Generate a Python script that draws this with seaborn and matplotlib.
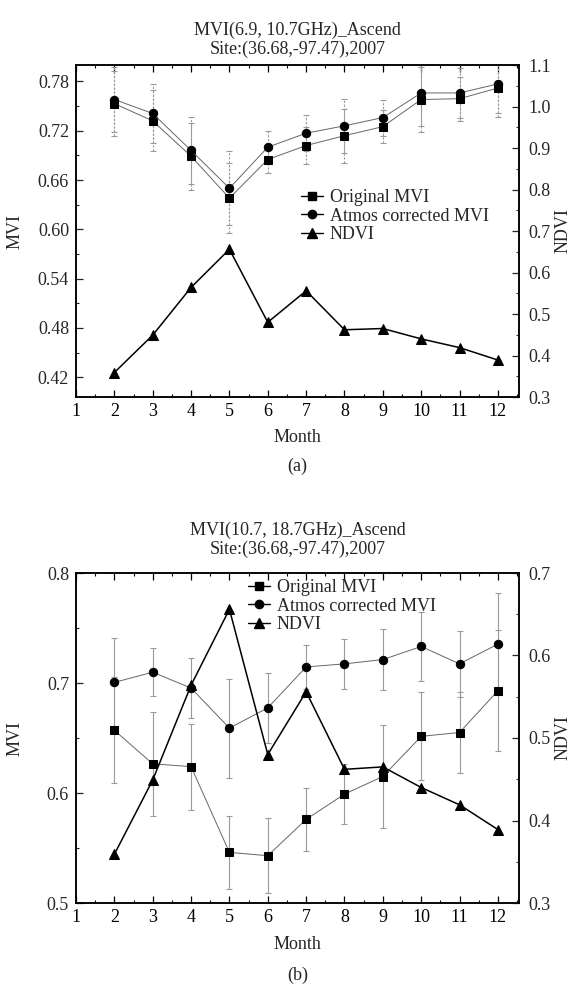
import matplotlib
matplotlib.use("Agg")
import matplotlib.pyplot as plt
import seaborn as sns
import numpy as np
from matplotlib.lines import Line2D
from matplotlib.ticker import MultipleLocator, FormatStrFormatter

sns.set_style("ticks")
plt.rcParams['font.family'] = ['Liberation Serif', 'DejaVu Serif']
plt.rcParams['mathtext.fontset'] = 'stix'

months = [2, 3, 4, 5, 6, 7, 8, 9, 10, 11, 12]

# Panel (a): MVI(6.9, 10.7GHz)
a_orig = [0.753, 0.732, 0.689, 0.638, 0.685, 0.702, 0.714, 0.725, 0.758, 0.759, 0.772]
a_orig_err = [0.040, 0.037, 0.041, 0.043, 0.017, 0.023, 0.033, 0.020, 0.040, 0.027, 0.035]
a_atm = [0.758, 0.741, 0.696, 0.650, 0.700, 0.717, 0.726, 0.736, 0.766, 0.766, 0.777]
a_atm_err = [0.040, 0.036, 0.041, 0.045, 0.020, 0.022, 0.033, 0.022, 0.040, 0.030, 0.035]

# Panel (b): MVI(10.7, 18.7GHz)
b_orig = [0.657, 0.6265, 0.624, 0.546, 0.543, 0.576, 0.599, 0.615, 0.6515, 0.655, 0.693]
b_orig_err = [0.048, 0.047, 0.039, 0.033, 0.034, 0.029, 0.027, 0.047, 0.040, 0.037, 0.055]
b_atm = [0.7006, 0.7098, 0.6954, 0.659, 0.6774, 0.7146, 0.7174, 0.7213, 0.7332, 0.7174, 0.7354]
b_atm_err = [0.040, 0.022, 0.027, 0.045, 0.032, 0.020, 0.023, 0.028, 0.031, 0.030, 0.046]

# NDVI (same in both panels)
ndvi = [0.359, 0.449, 0.564, 0.656, 0.480, 0.556, 0.462, 0.465, 0.440, 0.419, 0.389]

labels = ["Original MVI", "Atmos corrected MVI", "NDVI"]
titles = [("MVI(6.9, 10.7GHz)_Ascend", "Site:(36.68,-97.47),2007"),
          ("MVI(10.7, 18.7GHz)_Ascend", "Site:(36.68,-97.47),2007")]
panel_tags = ["(a)", "(b)"]

W, H = 579, 988
fig = plt.figure(figsize=(W / 100, H / 100), dpi=100)
FS = 13

def px_box(l, t, r, b):
    return [l / W, 1 - b / H, (r - l) / W, (b - t) / H]

panels = [
    dict(box=px_box(76, 65, 519, 397), orig=a_orig, oerr=a_orig_err, atm=a_atm, aerr=a_atm_err,
         ylim=(0.396, 0.80), ymaj=0.06, ymin=0.03, yfmt='%.2f', y2lim=(0.3, 1.1),
         err_ls=(0, (2, 1.5)), leg=(0.508, 0.545), tpos=(30, 49), mpos=437, tagpos=466),
    dict(box=px_box(76, 573, 519, 903), orig=b_orig, oerr=b_orig_err, atm=b_atm, aerr=b_atm_err,
         ylim=(0.5, 0.8), ymaj=0.1, ymin=0.05, yfmt='%.1f', y2lim=(0.3, 0.7),
         err_ls='solid', leg=(0.388, 0.90), tpos=(530, 549), mpos=944, tagpos=975),
]

for i, p in enumerate(panels):
    ax = fig.add_axes(p['box'])
    ax2 = ax.twinx()

    # error bars
    for vals, errs in ((p['orig'], p['oerr']), (p['atm'], p['aerr'])):
        eb = ax.errorbar(months, vals, yerr=errs, fmt='none', ecolor='#9a9a9a',
                         elinewidth=0.8, capsize=2.5, capthick=0.8, zorder=1)
        for c in eb[2]:
            c.set_linestyle(p['err_ls'])

    sns.lineplot(x=months, y=p['orig'], ax=ax, color='#666666', linewidth=0.7,
                 marker='s', markersize=5.5, markerfacecolor='k', markeredgecolor='k',
                 legend=False, zorder=3)
    sns.lineplot(x=months, y=p['atm'], ax=ax, color='#666666', linewidth=0.7,
                 marker='o', markersize=6, markerfacecolor='k', markeredgecolor='k',
                 legend=False, zorder=3)
    sns.lineplot(x=months, y=ndvi, ax=ax2, color='k', linewidth=1.1,
                 marker='^', markersize=6.5, markerfacecolor='k', markeredgecolor='k',
                 legend=False, zorder=3)

    ax.set_xlim(1, 12.55)
    ax.set_ylim(*p['ylim'])
    ax2.set_ylim(*p['y2lim'])
    ax.xaxis.set_major_locator(MultipleLocator(1))
    ax.xaxis.set_minor_locator(MultipleLocator(0.5))
    ax.yaxis.set_major_locator(MultipleLocator(p['ymaj']))
    ax.yaxis.set_minor_locator(MultipleLocator(p['ymin']))
    ax.yaxis.set_major_formatter(FormatStrFormatter(p['yfmt']))
    ax2.yaxis.set_major_locator(MultipleLocator(0.1))
    ax2.yaxis.set_minor_locator(MultipleLocator(0.05))
    ax2.yaxis.set_major_formatter(FormatStrFormatter('%.1f'))
    if i == 0:
        ax.set_yticks(np.arange(0.42, 0.79, 0.06))

    ax.set_xlabel('')
    ax.set_ylabel('')
    ax2.set_ylabel('')
    ax.tick_params(axis='x', which='both', direction='in', top=True, bottom=True,
                   labelsize=FS, pad=4, colors='k')
    ax.tick_params(axis='y', which='both', direction='in', left=True, right=False,
                   labelsize=FS, pad=5)
    ax2.tick_params(axis='y', which='both', direction='in', right=True, left=False,
                    labelsize=FS, pad=7)
    for a in (ax, ax2):
        a.tick_params(which='major', length=5, width=0.9)
        a.tick_params(which='minor', length=2.5, width=0.8)
        for s in a.spines.values():
            s.set_visible(True)
            s.set_linewidth(1.1)
            s.set_color('k')

    handles = [
        Line2D([], [], color='k', lw=1.0, marker='s', markersize=5.5),
        Line2D([], [], color='k', lw=1.0, marker='o', markersize=6),
        Line2D([], [], color='k', lw=1.0, marker='^', markersize=6.5),
    ]
    ax2.legend(handles, labels, loc='center left', bbox_to_anchor=p['leg'],
               frameon=False, fontsize=FS, borderpad=0, borderaxespad=0,
               handlelength=1.2, handletextpad=0.4, labelspacing=0.08)

    cx = (76 + 519) / 2 / W
    fig.text(cx, 1 - p['tpos'][0] / H, titles[i][0], ha='center', va='center', fontsize=FS)
    fig.text(cx, 1 - p['tpos'][1] / H, titles[i][1], ha='center', va='center', fontsize=FS)
    fig.text(cx, 1 - p['mpos'] / H, 'Month', ha='center', va='center', fontsize=FS)
    fig.text(cx, 1 - p['tagpos'] / H, panel_tags[i], ha='center', va='center', fontsize=FS)
    top, bot = p['box'][1] + p['box'][3], p['box'][1]
    fig.text(15 / W, (top + bot) / 2, 'MVI', rotation=90, ha='center', va='center', fontsize=FS)
    fig.text(563 / W, (top + bot) / 2, 'NDVI', rotation=90, ha='center', va='center', fontsize=FS)

fig.savefig('out.png', dpi=100)
